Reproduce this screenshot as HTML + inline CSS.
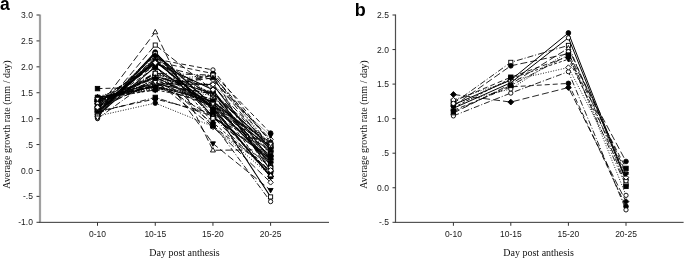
<!DOCTYPE html>
<html><head><meta charset="utf-8"><style>
html,body{margin:0;padding:0;background:#fff;width:685px;height:259px;overflow:hidden}
svg{display:block;will-change:transform}
</style></head><body>
<svg width="685" height="259" viewBox="0 0 685 259"><style>.tk{font:8.5px "Liberation Sans",sans-serif;fill:#1a1a1a}.tt{font:10px "Liberation Serif",serif;fill:#111}.pl{font:bold 18px "Liberation Sans",sans-serif;fill:#000}</style><defs><filter id="bl" x="0" y="0" width="1" height="1"><feGaussianBlur stdDeviation="0.3"/></filter></defs><rect width="685" height="259" fill="#fff"/><g filter="url(#bl)"><text x="0" y="10" class="pl" style="font-size:17.5px">a</text><text x="354.8" y="16.3" class="pl">b</text><rect x="38.9" y="14.5" width="2.2" height="207.8" fill="#a0a0a0"/><rect x="39.0" y="221.8" width="290.0" height="1.2" fill="#555"/><path d="M36.5 15.00H39.5" stroke="#333" stroke-width="1"/><text x="32.9" y="18.10" text-anchor="end" class="tk">3.0</text><path d="M36.5 40.91H39.5" stroke="#333" stroke-width="1"/><text x="32.9" y="44.01" text-anchor="end" class="tk">2.5</text><path d="M36.5 66.83H39.5" stroke="#333" stroke-width="1"/><text x="32.9" y="69.92" text-anchor="end" class="tk">2.0</text><path d="M36.5 92.74H39.5" stroke="#333" stroke-width="1"/><text x="32.9" y="95.84" text-anchor="end" class="tk">1.5</text><path d="M36.5 118.65H39.5" stroke="#333" stroke-width="1"/><text x="32.9" y="121.75" text-anchor="end" class="tk">1.0</text><path d="M36.5 144.56H39.5" stroke="#333" stroke-width="1"/><text x="32.9" y="147.66" text-anchor="end" class="tk">.5</text><path d="M36.5 170.48H39.5" stroke="#333" stroke-width="1"/><text x="32.9" y="173.58" text-anchor="end" class="tk">0.0</text><path d="M36.5 196.39H39.5" stroke="#333" stroke-width="1"/><text x="32.9" y="199.49" text-anchor="end" class="tk">-.5</text><path d="M36.5 222.30H39.5" stroke="#333" stroke-width="1"/><text x="32.9" y="225.40" text-anchor="end" class="tk">-1.0</text><path d="M97.50 222.3V225.8" stroke="#333" stroke-width="1"/><text x="97.50" y="237" text-anchor="middle" class="tk">0-10</text><path d="M155.25 222.3V225.8" stroke="#333" stroke-width="1"/><text x="155.25" y="237" text-anchor="middle" class="tk">10-15</text><path d="M212.95 222.3V225.8" stroke="#333" stroke-width="1"/><text x="212.95" y="237" text-anchor="middle" class="tk">15-20</text><path d="M270.60 222.3V225.8" stroke="#333" stroke-width="1"/><text x="270.60" y="237" text-anchor="middle" class="tk">20-25</text><text x="184.5" y="256.4" text-anchor="middle" class="tt">Day post anthesis</text><text transform="translate(10.3 124.5) rotate(-90)" x="0" y="0" text-anchor="middle" class="tt">Average growth rate (mm / day)</text><rect x="394.9" y="14.5" width="1.2" height="207.8" fill="#505050"/><rect x="395.0" y="221.8" width="288.6" height="1.2" fill="#555"/><path d="M392.5 15.00H395.5" stroke="#333" stroke-width="1"/><text x="388.9" y="18.10" text-anchor="end" class="tk">2.5</text><path d="M392.5 49.55H395.5" stroke="#333" stroke-width="1"/><text x="388.9" y="52.65" text-anchor="end" class="tk">2.0</text><path d="M392.5 84.10H395.5" stroke="#333" stroke-width="1"/><text x="388.9" y="87.20" text-anchor="end" class="tk">1.5</text><path d="M392.5 118.65H395.5" stroke="#333" stroke-width="1"/><text x="388.9" y="121.75" text-anchor="end" class="tk">1.0</text><path d="M392.5 153.20H395.5" stroke="#333" stroke-width="1"/><text x="388.9" y="156.30" text-anchor="end" class="tk">.5</text><path d="M392.5 187.75H395.5" stroke="#333" stroke-width="1"/><text x="388.9" y="190.85" text-anchor="end" class="tk">0.0</text><path d="M392.5 222.30H395.5" stroke="#333" stroke-width="1"/><text x="388.9" y="225.40" text-anchor="end" class="tk">-.5</text><path d="M453.40 222.3V225.8" stroke="#333" stroke-width="1"/><text x="453.40" y="237" text-anchor="middle" class="tk">0-10</text><path d="M510.80 222.3V225.8" stroke="#333" stroke-width="1"/><text x="510.80" y="237" text-anchor="middle" class="tk">10-15</text><path d="M568.40 222.3V225.8" stroke="#333" stroke-width="1"/><text x="568.40" y="237" text-anchor="middle" class="tk">15-20</text><path d="M626.00 222.3V225.8" stroke="#333" stroke-width="1"/><text x="626.00" y="237" text-anchor="middle" class="tk">20-25</text><text x="538.6" y="256.4" text-anchor="middle" class="tt">Day post anthesis</text><text transform="translate(366.8 124.5) rotate(-90)" x="0" y="0" text-anchor="middle" class="tt">Average growth rate (mm / day)</text><path d="M97.50 108.80L155.25 32.10L212.95 150.26L270.60 149.75" fill="none" stroke="#000" stroke-width="0.89" stroke-dasharray="7,3"/><path d="M97.50 88.59L155.25 87.04L212.95 105.69L270.60 152.34" fill="none" stroke="#000" stroke-width="0.89" stroke-dasharray="5,3"/><path d="M97.50 113.47L155.25 45.06L212.95 90.15L270.60 165.29" fill="none" stroke="#000" stroke-width="0.89" stroke-dasharray="7,3"/><path d="M97.50 116.06L155.25 103.10L212.95 126.42L270.60 175.66" fill="none" stroke="#000" stroke-width="0.89" stroke-dasharray="1,1.6"/><path d="M97.50 112.43L155.25 97.40L212.95 116.06L270.60 167.88" fill="none" stroke="#000" stroke-width="0.89" stroke-dasharray="6,2,1,2"/><path d="M97.50 108.29L155.25 64.23L212.95 143.53L270.60 190.17" fill="none" stroke="#000" stroke-width="0.89" stroke-dasharray="7,3"/><path d="M97.50 110.88L155.25 59.05L212.95 69.93L270.60 141.97" fill="none" stroke="#000" stroke-width="0.89" stroke-dasharray="5,3"/><path d="M97.50 103.10L155.25 61.64L212.95 73.56L270.60 133.16" fill="none" stroke="#000" stroke-width="0.89" stroke-dasharray="5,3"/><path d="M97.50 118.65L155.25 76.67L212.95 123.83L270.60 201.57" fill="none" stroke="#000" stroke-width="0.89" stroke-dasharray="6,2,1,2"/><path d="M97.50 115.02L155.25 66.83L212.95 108.29L270.60 196.91" fill="none" stroke="#000" stroke-width="1.05"/><path d="M97.50 109.32L155.25 80.82L212.95 126.94L270.60 182.39" fill="none" stroke="#000" stroke-width="0.89" stroke-dasharray="7,3"/><path d="M97.50 100.51L155.25 64.23L212.95 79.78L270.60 139.38" fill="none" stroke="#000" stroke-width="0.89" stroke-dasharray="7,3"/><path d="M97.50 101.55L155.25 62.68L212.95 95.33L270.60 160.11" fill="none" stroke="#000" stroke-width="0.89" stroke-dasharray="1,1.6"/><path d="M97.50 111.39L155.25 98.96L212.95 113.47L270.60 173.07" fill="none" stroke="#000" stroke-width="0.89" stroke-dasharray="5,3"/><path d="M97.50 117.00L155.25 53.01L212.95 105.71L270.60 162.16" fill="none" stroke="#000" stroke-width="1.05"/><path d="M97.50 103.87L155.25 77.41L212.95 85.98L270.60 146.14" fill="none" stroke="#000" stroke-width="0.89" stroke-dasharray="7,3"/><path d="M97.50 96.88L155.25 79.01L212.95 84.65L270.60 135.49" fill="none" stroke="#000" stroke-width="0.89" stroke-dasharray="1,1.6"/><path d="M97.50 105.48L155.25 73.74L212.95 102.70L270.60 156.15" fill="none" stroke="#000" stroke-width="0.89" stroke-dasharray="6,2,1,2"/><path d="M97.50 107.53L155.25 73.39L212.95 94.68L270.60 146.24" fill="none" stroke="#000" stroke-width="0.89" stroke-dasharray="5,3"/><path d="M97.50 113.92L155.25 58.97L212.95 116.89L270.60 156.69" fill="none" stroke="#000" stroke-width="0.89" stroke-dasharray="6,2,1,2,1,2"/><path d="M97.50 103.94L155.25 76.65L212.95 108.03L270.60 155.66" fill="none" stroke="#000" stroke-width="0.89" stroke-dasharray="3,2"/><path d="M97.50 98.04L155.25 83.71L212.95 84.50L270.60 159.76" fill="none" stroke="#000" stroke-width="1.05"/><path d="M97.50 96.88L155.25 90.14L212.95 75.12L270.60 176.69" fill="none" stroke="#000" stroke-width="0.89" stroke-dasharray="7,3"/><path d="M97.50 109.60L155.25 59.73L212.95 103.60L270.60 164.19" fill="none" stroke="#000" stroke-width="0.89" stroke-dasharray="6,2,1,2"/><path d="M97.50 114.33L155.25 52.10L212.95 116.78L270.60 158.88" fill="none" stroke="#000" stroke-width="1.05"/><path d="M97.50 97.36L155.25 87.29L212.95 104.62L270.60 160.27" fill="none" stroke="#000" stroke-width="0.89" stroke-dasharray="7,3"/><path d="M97.50 99.02L155.25 88.04L212.95 95.48L270.60 160.28" fill="none" stroke="#000" stroke-width="0.89" stroke-dasharray="1,1.6"/><path d="M97.50 102.22L155.25 77.24L212.95 105.66L270.60 142.14" fill="none" stroke="#000" stroke-width="0.89" stroke-dasharray="6,2,1,2"/><path d="M97.50 114.02L155.25 54.60L212.95 113.41L270.60 150.63" fill="none" stroke="#000" stroke-width="0.89" stroke-dasharray="5,3"/><path d="M97.50 99.77L155.25 84.86L212.95 93.33L270.60 149.06" fill="none" stroke="#000" stroke-width="0.89" stroke-dasharray="6,2,1,2,1,2"/><path d="M97.50 101.04L155.25 86.24L212.95 99.02L270.60 176.69" fill="none" stroke="#000" stroke-width="0.89" stroke-dasharray="3,2"/><path d="M97.50 101.64L155.25 76.22L212.95 93.19L270.60 147.35" fill="none" stroke="#000" stroke-width="1.05"/><path d="M97.50 97.51L155.25 86.14L212.95 75.12L270.60 141.88" fill="none" stroke="#000" stroke-width="0.89" stroke-dasharray="7,3"/><path d="M97.50 102.26L155.25 80.45L212.95 99.95L270.60 152.37" fill="none" stroke="#000" stroke-width="0.89" stroke-dasharray="6,2,1,2"/><path d="M97.50 99.56L155.25 86.32L212.95 101.31L270.60 148.58" fill="none" stroke="#000" stroke-width="1.05"/><path d="M97.50 115.02L155.25 57.65L212.95 97.57L270.60 150.91" fill="none" stroke="#000" stroke-width="0.89" stroke-dasharray="7,3"/><path d="M97.50 102.81L155.25 80.28L212.95 75.12L270.60 148.01" fill="none" stroke="#000" stroke-width="0.89" stroke-dasharray="1,1.6"/><path d="M97.50 104.67L155.25 72.70L212.95 92.45L270.60 143.57" fill="none" stroke="#000" stroke-width="0.89" stroke-dasharray="6,2,1,2"/><path d="M97.50 102.59L155.25 65.82L212.95 125.91L270.60 170.49" fill="none" stroke="#000" stroke-width="0.89" stroke-dasharray="5,3"/><path d="M97.50 108.17L155.25 73.28L212.95 75.12L270.60 145.90" fill="none" stroke="#000" stroke-width="0.89" stroke-dasharray="6,2,1,2,1,2"/><path d="M97.50 99.38L155.25 89.80L212.95 101.16L270.60 156.26" fill="none" stroke="#000" stroke-width="0.89" stroke-dasharray="3,2"/><path d="M97.50 112.36L155.25 61.63L212.95 106.99L270.60 176.69" fill="none" stroke="#000" stroke-width="1.05"/><path d="M97.50 100.93L155.25 77.40L212.95 102.49L270.60 164.70" fill="none" stroke="#000" stroke-width="0.89" stroke-dasharray="7,3"/><path d="M97.50 117.73L155.25 56.05L212.95 95.66L270.60 164.45" fill="none" stroke="#000" stroke-width="0.89" stroke-dasharray="6,2,1,2"/><path d="M97.50 111.30L155.25 60.79L212.95 108.61L270.60 176.69" fill="none" stroke="#000" stroke-width="1.05"/><path d="M97.50 106.38L155.25 83.91L212.95 94.02L270.60 167.59" fill="none" stroke="#000" stroke-width="0.89" stroke-dasharray="7,3"/><path d="M97.50 97.88L155.25 88.80L212.95 93.03L270.60 163.08" fill="none" stroke="#000" stroke-width="0.89" stroke-dasharray="1,1.6"/><path d="M97.50 102.63L155.25 82.16L212.95 116.93L270.60 175.17" fill="none" stroke="#000" stroke-width="0.89" stroke-dasharray="6,2,1,2"/><path d="M97.50 108.35L155.25 67.22L212.95 109.93L270.60 145.84" fill="none" stroke="#000" stroke-width="0.89" stroke-dasharray="5,3"/><path d="M97.50 108.72L155.25 53.75L212.95 118.50L270.60 145.16" fill="none" stroke="#000" stroke-width="0.89" stroke-dasharray="6,2,1,2,1,2"/><path d="M97.50 108.19L155.25 55.70L212.95 122.59L270.60 171.21" fill="none" stroke="#000" stroke-width="0.89" stroke-dasharray="3,2"/><path d="M97.50 107.32L155.25 62.76L212.95 89.76L270.60 170.30" fill="none" stroke="#000" stroke-width="1.05"/><path d="M97.50 97.89L155.25 85.70L212.95 77.92L270.60 150.47" fill="none" stroke="#000" stroke-width="0.89" stroke-dasharray="7,3"/><path d="M97.50 99.07L155.25 82.21L212.95 103.89L270.60 143.96" fill="none" stroke="#000" stroke-width="0.89" stroke-dasharray="6,2,1,2"/><path d="M97.50 106.10L100.00 110.50L95.00 110.50Z" fill="#fff" stroke="#000" stroke-width="0.9"/><path d="M155.25 29.40L157.75 33.80L152.75 33.80Z" fill="#fff" stroke="#000" stroke-width="0.9"/><path d="M212.95 147.56L215.45 151.96L210.45 151.96Z" fill="#fff" stroke="#000" stroke-width="0.9"/><path d="M270.60 147.05L273.10 151.44L268.10 151.44Z" fill="#fff" stroke="#000" stroke-width="0.9"/><rect x="95.30" y="86.39" width="4.40" height="4.40" fill="#000" stroke="#000" stroke-width="0.9"/><rect x="153.05" y="84.84" width="4.40" height="4.40" fill="#000" stroke="#000" stroke-width="0.9"/><rect x="210.75" y="103.49" width="4.40" height="4.40" fill="#000" stroke="#000" stroke-width="0.9"/><rect x="268.40" y="150.14" width="4.40" height="4.40" fill="#000" stroke="#000" stroke-width="0.9"/><rect x="95.45" y="111.42" width="4.10" height="4.10" fill="#fff" stroke="#000" stroke-width="0.9"/><rect x="153.20" y="43.01" width="4.10" height="4.10" fill="#fff" stroke="#000" stroke-width="0.9"/><rect x="210.90" y="88.10" width="4.10" height="4.10" fill="#fff" stroke="#000" stroke-width="0.9"/><rect x="268.55" y="163.24" width="4.10" height="4.10" fill="#fff" stroke="#000" stroke-width="0.9"/><circle cx="97.50" cy="116.06" r="2.35" fill="#000" stroke="#000" stroke-width="0.9"/><circle cx="155.25" cy="103.10" r="2.35" fill="#000" stroke="#000" stroke-width="0.9"/><circle cx="212.95" cy="126.42" r="2.35" fill="#000" stroke="#000" stroke-width="0.9"/><circle cx="270.60" cy="175.66" r="2.35" fill="#000" stroke="#000" stroke-width="0.9"/><rect x="95.30" y="110.23" width="4.40" height="4.40" fill="#000" stroke="#000" stroke-width="0.9"/><rect x="153.05" y="95.20" width="4.40" height="4.40" fill="#000" stroke="#000" stroke-width="0.9"/><rect x="210.75" y="113.86" width="4.40" height="4.40" fill="#000" stroke="#000" stroke-width="0.9"/><rect x="268.40" y="165.68" width="4.40" height="4.40" fill="#000" stroke="#000" stroke-width="0.9"/><path d="M97.50 110.99L100.00 106.59L95.00 106.59Z" fill="#000" stroke="#000" stroke-width="0.9"/><path d="M155.25 66.93L157.75 62.53L152.75 62.53Z" fill="#000" stroke="#000" stroke-width="0.9"/><path d="M212.95 146.23L215.45 141.83L210.45 141.83Z" fill="#000" stroke="#000" stroke-width="0.9"/><path d="M270.60 192.87L273.10 188.47L268.10 188.47Z" fill="#000" stroke="#000" stroke-width="0.9"/><circle cx="97.50" cy="110.88" r="2.15" fill="#fff" stroke="#000" stroke-width="0.9"/><circle cx="155.25" cy="59.05" r="2.15" fill="#fff" stroke="#000" stroke-width="0.9"/><circle cx="212.95" cy="69.93" r="2.15" fill="#fff" stroke="#000" stroke-width="0.9"/><circle cx="270.60" cy="141.97" r="2.15" fill="#fff" stroke="#000" stroke-width="0.9"/><circle cx="97.50" cy="103.10" r="2.35" fill="#000" stroke="#000" stroke-width="0.9"/><circle cx="155.25" cy="61.64" r="2.35" fill="#000" stroke="#000" stroke-width="0.9"/><circle cx="212.95" cy="73.56" r="2.35" fill="#000" stroke="#000" stroke-width="0.9"/><circle cx="270.60" cy="133.16" r="2.35" fill="#000" stroke="#000" stroke-width="0.9"/><circle cx="97.50" cy="118.65" r="2.15" fill="#fff" stroke="#000" stroke-width="0.9"/><circle cx="155.25" cy="76.67" r="2.15" fill="#fff" stroke="#000" stroke-width="0.9"/><circle cx="212.95" cy="123.83" r="2.15" fill="#fff" stroke="#000" stroke-width="0.9"/><circle cx="270.60" cy="201.57" r="2.15" fill="#fff" stroke="#000" stroke-width="0.9"/><rect x="95.45" y="112.97" width="4.10" height="4.10" fill="#fff" stroke="#000" stroke-width="0.9"/><rect x="153.20" y="64.78" width="4.10" height="4.10" fill="#fff" stroke="#000" stroke-width="0.9"/><rect x="210.90" y="106.24" width="4.10" height="4.10" fill="#fff" stroke="#000" stroke-width="0.9"/><rect x="268.55" y="194.86" width="4.10" height="4.10" fill="#fff" stroke="#000" stroke-width="0.9"/><path d="M97.50 106.62L100.20 109.32L97.50 112.02L94.80 109.32Z" fill="#fff" stroke="#000" stroke-width="0.9"/><path d="M155.25 78.12L157.95 80.82L155.25 83.52L152.55 80.82Z" fill="#fff" stroke="#000" stroke-width="0.9"/><path d="M212.95 124.24L215.65 126.94L212.95 129.64L210.25 126.94Z" fill="#fff" stroke="#000" stroke-width="0.9"/><path d="M270.60 179.69L273.30 182.39L270.60 185.09L267.90 182.39Z" fill="#fff" stroke="#000" stroke-width="0.9"/><path d="M97.50 97.81L100.20 100.51L97.50 103.21L94.80 100.51Z" fill="#fff" stroke="#000" stroke-width="0.9"/><path d="M155.25 61.53L157.95 64.23L155.25 66.93L152.55 64.23Z" fill="#fff" stroke="#000" stroke-width="0.9"/><path d="M212.95 77.08L215.65 79.78L212.95 82.48L210.25 79.78Z" fill="#fff" stroke="#000" stroke-width="0.9"/><path d="M270.60 136.68L273.30 139.38L270.60 142.08L267.90 139.38Z" fill="#fff" stroke="#000" stroke-width="0.9"/><path d="M97.50 98.85L100.20 101.55L97.50 104.25L94.80 101.55Z" fill="#fff" stroke="#000" stroke-width="0.9"/><path d="M155.25 59.98L157.95 62.68L155.25 65.38L152.55 62.68Z" fill="#fff" stroke="#000" stroke-width="0.9"/><path d="M212.95 92.63L215.65 95.33L212.95 98.03L210.25 95.33Z" fill="#fff" stroke="#000" stroke-width="0.9"/><path d="M270.60 157.41L273.30 160.11L270.60 162.81L267.90 160.11Z" fill="#fff" stroke="#000" stroke-width="0.9"/><circle cx="97.50" cy="111.39" r="2.35" fill="#000" stroke="#000" stroke-width="0.9"/><circle cx="155.25" cy="98.96" r="2.35" fill="#000" stroke="#000" stroke-width="0.9"/><circle cx="212.95" cy="113.47" r="2.35" fill="#000" stroke="#000" stroke-width="0.9"/><circle cx="270.60" cy="173.07" r="2.35" fill="#000" stroke="#000" stroke-width="0.9"/><circle cx="97.50" cy="117.00" r="2.35" fill="#000" stroke="#000" stroke-width="0.9"/><circle cx="155.25" cy="53.01" r="2.35" fill="#000" stroke="#000" stroke-width="0.9"/><circle cx="212.95" cy="105.71" r="2.35" fill="#000" stroke="#000" stroke-width="0.9"/><circle cx="270.60" cy="162.16" r="2.35" fill="#000" stroke="#000" stroke-width="0.9"/><circle cx="97.50" cy="103.87" r="2.15" fill="#fff" stroke="#000" stroke-width="0.9"/><circle cx="155.25" cy="77.41" r="2.15" fill="#fff" stroke="#000" stroke-width="0.9"/><circle cx="212.95" cy="85.98" r="2.15" fill="#fff" stroke="#000" stroke-width="0.9"/><circle cx="270.60" cy="146.14" r="2.15" fill="#fff" stroke="#000" stroke-width="0.9"/><path d="M97.50 99.58L100.00 95.18L95.00 95.18Z" fill="#000" stroke="#000" stroke-width="0.9"/><path d="M155.25 81.71L157.75 77.31L152.75 77.31Z" fill="#000" stroke="#000" stroke-width="0.9"/><path d="M212.95 87.35L215.45 82.95L210.45 82.95Z" fill="#000" stroke="#000" stroke-width="0.9"/><path d="M270.60 138.19L273.10 133.79L268.10 133.79Z" fill="#000" stroke="#000" stroke-width="0.9"/><path d="M97.50 102.78L100.00 107.18L95.00 107.18Z" fill="#fff" stroke="#000" stroke-width="0.9"/><path d="M155.25 71.04L157.75 75.44L152.75 75.44Z" fill="#fff" stroke="#000" stroke-width="0.9"/><path d="M212.95 100.00L215.45 104.40L210.45 104.40Z" fill="#fff" stroke="#000" stroke-width="0.9"/><path d="M270.60 153.45L273.10 157.85L268.10 157.85Z" fill="#fff" stroke="#000" stroke-width="0.9"/><rect x="95.30" y="105.33" width="4.40" height="4.40" fill="#000" stroke="#000" stroke-width="0.9"/><rect x="153.05" y="71.19" width="4.40" height="4.40" fill="#000" stroke="#000" stroke-width="0.9"/><rect x="210.75" y="92.48" width="4.40" height="4.40" fill="#000" stroke="#000" stroke-width="0.9"/><rect x="268.40" y="144.04" width="4.40" height="4.40" fill="#000" stroke="#000" stroke-width="0.9"/><rect x="95.45" y="111.87" width="4.10" height="4.10" fill="#fff" stroke="#000" stroke-width="0.9"/><rect x="153.20" y="56.92" width="4.10" height="4.10" fill="#fff" stroke="#000" stroke-width="0.9"/><rect x="210.90" y="114.84" width="4.10" height="4.10" fill="#fff" stroke="#000" stroke-width="0.9"/><rect x="268.55" y="154.64" width="4.10" height="4.10" fill="#fff" stroke="#000" stroke-width="0.9"/><path d="M97.50 101.04L100.40 103.94L97.50 106.84L94.60 103.94Z" fill="#000" stroke="#000" stroke-width="0.9"/><path d="M155.25 73.75L158.15 76.65L155.25 79.55L152.35 76.65Z" fill="#000" stroke="#000" stroke-width="0.9"/><path d="M212.95 105.13L215.85 108.03L212.95 110.93L210.05 108.03Z" fill="#000" stroke="#000" stroke-width="0.9"/><path d="M270.60 152.76L273.50 155.66L270.60 158.56L267.70 155.66Z" fill="#000" stroke="#000" stroke-width="0.9"/><path d="M97.50 95.34L100.20 98.04L97.50 100.74L94.80 98.04Z" fill="#fff" stroke="#000" stroke-width="0.9"/><path d="M155.25 81.01L157.95 83.71L155.25 86.41L152.55 83.71Z" fill="#fff" stroke="#000" stroke-width="0.9"/><path d="M212.95 81.80L215.65 84.50L212.95 87.20L210.25 84.50Z" fill="#fff" stroke="#000" stroke-width="0.9"/><path d="M270.60 157.06L273.30 159.76L270.60 162.46L267.90 159.76Z" fill="#fff" stroke="#000" stroke-width="0.9"/><path d="M97.50 94.18L100.00 98.58L95.00 98.58Z" fill="#000" stroke="#000" stroke-width="0.9"/><path d="M155.25 87.44L157.75 91.84L152.75 91.84Z" fill="#000" stroke="#000" stroke-width="0.9"/><path d="M212.95 72.42L215.45 76.82L210.45 76.82Z" fill="#000" stroke="#000" stroke-width="0.9"/><path d="M270.60 173.99L273.10 178.39L268.10 178.39Z" fill="#000" stroke="#000" stroke-width="0.9"/><path d="M97.50 112.30L100.00 107.90L95.00 107.90Z" fill="#fff" stroke="#000" stroke-width="0.9"/><path d="M155.25 62.43L157.75 58.03L152.75 58.03Z" fill="#fff" stroke="#000" stroke-width="0.9"/><path d="M212.95 106.30L215.45 101.90L210.45 101.90Z" fill="#fff" stroke="#000" stroke-width="0.9"/><path d="M270.60 166.89L273.10 162.49L268.10 162.49Z" fill="#fff" stroke="#000" stroke-width="0.9"/><circle cx="97.50" cy="114.33" r="2.35" fill="#000" stroke="#000" stroke-width="0.9"/><circle cx="155.25" cy="52.10" r="2.35" fill="#000" stroke="#000" stroke-width="0.9"/><circle cx="212.95" cy="116.78" r="2.35" fill="#000" stroke="#000" stroke-width="0.9"/><circle cx="270.60" cy="158.88" r="2.35" fill="#000" stroke="#000" stroke-width="0.9"/><circle cx="97.50" cy="97.36" r="2.15" fill="#fff" stroke="#000" stroke-width="0.9"/><circle cx="155.25" cy="87.29" r="2.15" fill="#fff" stroke="#000" stroke-width="0.9"/><circle cx="212.95" cy="104.62" r="2.15" fill="#fff" stroke="#000" stroke-width="0.9"/><circle cx="270.60" cy="160.27" r="2.15" fill="#fff" stroke="#000" stroke-width="0.9"/><path d="M97.50 101.72L100.00 97.32L95.00 97.32Z" fill="#000" stroke="#000" stroke-width="0.9"/><path d="M155.25 90.74L157.75 86.34L152.75 86.34Z" fill="#000" stroke="#000" stroke-width="0.9"/><path d="M212.95 98.18L215.45 93.78L210.45 93.78Z" fill="#000" stroke="#000" stroke-width="0.9"/><path d="M270.60 162.98L273.10 158.58L268.10 158.58Z" fill="#000" stroke="#000" stroke-width="0.9"/><path d="M97.50 99.52L100.00 103.92L95.00 103.92Z" fill="#fff" stroke="#000" stroke-width="0.9"/><path d="M155.25 74.54L157.75 78.94L152.75 78.94Z" fill="#fff" stroke="#000" stroke-width="0.9"/><path d="M212.95 102.96L215.45 107.36L210.45 107.36Z" fill="#fff" stroke="#000" stroke-width="0.9"/><path d="M270.60 139.44L273.10 143.84L268.10 143.84Z" fill="#fff" stroke="#000" stroke-width="0.9"/><rect x="95.30" y="111.82" width="4.40" height="4.40" fill="#000" stroke="#000" stroke-width="0.9"/><rect x="153.05" y="52.40" width="4.40" height="4.40" fill="#000" stroke="#000" stroke-width="0.9"/><rect x="210.75" y="111.21" width="4.40" height="4.40" fill="#000" stroke="#000" stroke-width="0.9"/><rect x="268.40" y="148.43" width="4.40" height="4.40" fill="#000" stroke="#000" stroke-width="0.9"/><rect x="95.45" y="97.72" width="4.10" height="4.10" fill="#fff" stroke="#000" stroke-width="0.9"/><rect x="153.20" y="82.81" width="4.10" height="4.10" fill="#fff" stroke="#000" stroke-width="0.9"/><rect x="210.90" y="91.28" width="4.10" height="4.10" fill="#fff" stroke="#000" stroke-width="0.9"/><rect x="268.55" y="147.01" width="4.10" height="4.10" fill="#fff" stroke="#000" stroke-width="0.9"/><path d="M97.50 98.14L100.40 101.04L97.50 103.94L94.60 101.04Z" fill="#000" stroke="#000" stroke-width="0.9"/><path d="M155.25 83.34L158.15 86.24L155.25 89.14L152.35 86.24Z" fill="#000" stroke="#000" stroke-width="0.9"/><path d="M212.95 96.12L215.85 99.02L212.95 101.92L210.05 99.02Z" fill="#000" stroke="#000" stroke-width="0.9"/><path d="M270.60 173.79L273.50 176.69L270.60 179.59L267.70 176.69Z" fill="#000" stroke="#000" stroke-width="0.9"/><path d="M97.50 98.94L100.20 101.64L97.50 104.34L94.80 101.64Z" fill="#fff" stroke="#000" stroke-width="0.9"/><path d="M155.25 73.52L157.95 76.22L155.25 78.92L152.55 76.22Z" fill="#fff" stroke="#000" stroke-width="0.9"/><path d="M212.95 90.49L215.65 93.19L212.95 95.89L210.25 93.19Z" fill="#fff" stroke="#000" stroke-width="0.9"/><path d="M270.60 144.65L273.30 147.35L270.60 150.05L267.90 147.35Z" fill="#fff" stroke="#000" stroke-width="0.9"/><path d="M97.50 94.81L100.00 99.21L95.00 99.21Z" fill="#000" stroke="#000" stroke-width="0.9"/><path d="M155.25 83.44L157.75 87.84L152.75 87.84Z" fill="#000" stroke="#000" stroke-width="0.9"/><path d="M212.95 72.42L215.45 76.82L210.45 76.82Z" fill="#000" stroke="#000" stroke-width="0.9"/><path d="M270.60 139.18L273.10 143.58L268.10 143.58Z" fill="#000" stroke="#000" stroke-width="0.9"/><path d="M97.50 104.96L100.00 100.56L95.00 100.56Z" fill="#fff" stroke="#000" stroke-width="0.9"/><path d="M155.25 83.15L157.75 78.75L152.75 78.75Z" fill="#fff" stroke="#000" stroke-width="0.9"/><path d="M212.95 102.65L215.45 98.25L210.45 98.25Z" fill="#fff" stroke="#000" stroke-width="0.9"/><path d="M270.60 155.07L273.10 150.67L268.10 150.67Z" fill="#fff" stroke="#000" stroke-width="0.9"/><circle cx="97.50" cy="99.56" r="2.35" fill="#000" stroke="#000" stroke-width="0.9"/><circle cx="155.25" cy="86.32" r="2.35" fill="#000" stroke="#000" stroke-width="0.9"/><circle cx="212.95" cy="101.31" r="2.35" fill="#000" stroke="#000" stroke-width="0.9"/><circle cx="270.60" cy="148.58" r="2.35" fill="#000" stroke="#000" stroke-width="0.9"/><circle cx="97.50" cy="115.02" r="2.15" fill="#fff" stroke="#000" stroke-width="0.9"/><circle cx="155.25" cy="57.65" r="2.15" fill="#fff" stroke="#000" stroke-width="0.9"/><circle cx="212.95" cy="97.57" r="2.15" fill="#fff" stroke="#000" stroke-width="0.9"/><circle cx="270.60" cy="150.91" r="2.15" fill="#fff" stroke="#000" stroke-width="0.9"/><path d="M97.50 105.51L100.00 101.11L95.00 101.11Z" fill="#000" stroke="#000" stroke-width="0.9"/><path d="M155.25 82.98L157.75 78.58L152.75 78.58Z" fill="#000" stroke="#000" stroke-width="0.9"/><path d="M212.95 77.82L215.45 73.42L210.45 73.42Z" fill="#000" stroke="#000" stroke-width="0.9"/><path d="M270.60 150.71L273.10 146.31L268.10 146.31Z" fill="#000" stroke="#000" stroke-width="0.9"/><path d="M97.50 101.97L100.00 106.37L95.00 106.37Z" fill="#fff" stroke="#000" stroke-width="0.9"/><path d="M155.25 70.00L157.75 74.40L152.75 74.40Z" fill="#fff" stroke="#000" stroke-width="0.9"/><path d="M212.95 89.75L215.45 94.15L210.45 94.15Z" fill="#fff" stroke="#000" stroke-width="0.9"/><path d="M270.60 140.87L273.10 145.27L268.10 145.27Z" fill="#fff" stroke="#000" stroke-width="0.9"/><rect x="95.30" y="100.39" width="4.40" height="4.40" fill="#000" stroke="#000" stroke-width="0.9"/><rect x="153.05" y="63.62" width="4.40" height="4.40" fill="#000" stroke="#000" stroke-width="0.9"/><rect x="210.75" y="123.71" width="4.40" height="4.40" fill="#000" stroke="#000" stroke-width="0.9"/><rect x="268.40" y="168.29" width="4.40" height="4.40" fill="#000" stroke="#000" stroke-width="0.9"/><rect x="95.45" y="106.12" width="4.10" height="4.10" fill="#fff" stroke="#000" stroke-width="0.9"/><rect x="153.20" y="71.23" width="4.10" height="4.10" fill="#fff" stroke="#000" stroke-width="0.9"/><rect x="210.90" y="73.07" width="4.10" height="4.10" fill="#fff" stroke="#000" stroke-width="0.9"/><rect x="268.55" y="143.85" width="4.10" height="4.10" fill="#fff" stroke="#000" stroke-width="0.9"/><path d="M97.50 96.48L100.40 99.38L97.50 102.28L94.60 99.38Z" fill="#000" stroke="#000" stroke-width="0.9"/><path d="M155.25 86.90L158.15 89.80L155.25 92.70L152.35 89.80Z" fill="#000" stroke="#000" stroke-width="0.9"/><path d="M212.95 98.26L215.85 101.16L212.95 104.06L210.05 101.16Z" fill="#000" stroke="#000" stroke-width="0.9"/><path d="M270.60 153.36L273.50 156.26L270.60 159.16L267.70 156.26Z" fill="#000" stroke="#000" stroke-width="0.9"/><path d="M97.50 109.66L100.20 112.36L97.50 115.06L94.80 112.36Z" fill="#fff" stroke="#000" stroke-width="0.9"/><path d="M155.25 58.93L157.95 61.63L155.25 64.33L152.55 61.63Z" fill="#fff" stroke="#000" stroke-width="0.9"/><path d="M212.95 104.29L215.65 106.99L212.95 109.69L210.25 106.99Z" fill="#fff" stroke="#000" stroke-width="0.9"/><path d="M270.60 173.99L273.30 176.69L270.60 179.39L267.90 176.69Z" fill="#fff" stroke="#000" stroke-width="0.9"/><path d="M97.50 98.23L100.00 102.63L95.00 102.63Z" fill="#000" stroke="#000" stroke-width="0.9"/><path d="M155.25 74.70L157.75 79.10L152.75 79.10Z" fill="#000" stroke="#000" stroke-width="0.9"/><path d="M212.95 99.79L215.45 104.19L210.45 104.19Z" fill="#000" stroke="#000" stroke-width="0.9"/><path d="M270.60 162.00L273.10 166.40L268.10 166.40Z" fill="#000" stroke="#000" stroke-width="0.9"/><path d="M97.50 120.43L100.00 116.03L95.00 116.03Z" fill="#fff" stroke="#000" stroke-width="0.9"/><path d="M155.25 58.75L157.75 54.35L152.75 54.35Z" fill="#fff" stroke="#000" stroke-width="0.9"/><path d="M212.95 98.36L215.45 93.96L210.45 93.96Z" fill="#fff" stroke="#000" stroke-width="0.9"/><path d="M270.60 167.15L273.10 162.75L268.10 162.75Z" fill="#fff" stroke="#000" stroke-width="0.9"/><circle cx="97.50" cy="111.30" r="2.35" fill="#000" stroke="#000" stroke-width="0.9"/><circle cx="155.25" cy="60.79" r="2.35" fill="#000" stroke="#000" stroke-width="0.9"/><circle cx="212.95" cy="108.61" r="2.35" fill="#000" stroke="#000" stroke-width="0.9"/><circle cx="270.60" cy="176.69" r="2.35" fill="#000" stroke="#000" stroke-width="0.9"/><circle cx="97.50" cy="106.38" r="2.15" fill="#fff" stroke="#000" stroke-width="0.9"/><circle cx="155.25" cy="83.91" r="2.15" fill="#fff" stroke="#000" stroke-width="0.9"/><circle cx="212.95" cy="94.02" r="2.15" fill="#fff" stroke="#000" stroke-width="0.9"/><circle cx="270.60" cy="167.59" r="2.15" fill="#fff" stroke="#000" stroke-width="0.9"/><path d="M97.50 100.58L100.00 96.18L95.00 96.18Z" fill="#000" stroke="#000" stroke-width="0.9"/><path d="M155.25 91.50L157.75 87.10L152.75 87.10Z" fill="#000" stroke="#000" stroke-width="0.9"/><path d="M212.95 95.73L215.45 91.33L210.45 91.33Z" fill="#000" stroke="#000" stroke-width="0.9"/><path d="M270.60 165.78L273.10 161.38L268.10 161.38Z" fill="#000" stroke="#000" stroke-width="0.9"/><path d="M97.50 99.93L100.00 104.33L95.00 104.33Z" fill="#fff" stroke="#000" stroke-width="0.9"/><path d="M155.25 79.46L157.75 83.86L152.75 83.86Z" fill="#fff" stroke="#000" stroke-width="0.9"/><path d="M212.95 114.23L215.45 118.63L210.45 118.63Z" fill="#fff" stroke="#000" stroke-width="0.9"/><path d="M270.60 172.47L273.10 176.87L268.10 176.87Z" fill="#fff" stroke="#000" stroke-width="0.9"/><rect x="95.30" y="106.15" width="4.40" height="4.40" fill="#000" stroke="#000" stroke-width="0.9"/><rect x="153.05" y="65.02" width="4.40" height="4.40" fill="#000" stroke="#000" stroke-width="0.9"/><rect x="210.75" y="107.73" width="4.40" height="4.40" fill="#000" stroke="#000" stroke-width="0.9"/><rect x="268.40" y="143.64" width="4.40" height="4.40" fill="#000" stroke="#000" stroke-width="0.9"/><rect x="95.45" y="106.67" width="4.10" height="4.10" fill="#fff" stroke="#000" stroke-width="0.9"/><rect x="153.20" y="51.70" width="4.10" height="4.10" fill="#fff" stroke="#000" stroke-width="0.9"/><rect x="210.90" y="116.45" width="4.10" height="4.10" fill="#fff" stroke="#000" stroke-width="0.9"/><rect x="268.55" y="143.11" width="4.10" height="4.10" fill="#fff" stroke="#000" stroke-width="0.9"/><path d="M97.50 105.29L100.40 108.19L97.50 111.09L94.60 108.19Z" fill="#000" stroke="#000" stroke-width="0.9"/><path d="M155.25 52.80L158.15 55.70L155.25 58.60L152.35 55.70Z" fill="#000" stroke="#000" stroke-width="0.9"/><path d="M212.95 119.69L215.85 122.59L212.95 125.49L210.05 122.59Z" fill="#000" stroke="#000" stroke-width="0.9"/><path d="M270.60 168.31L273.50 171.21L270.60 174.11L267.70 171.21Z" fill="#000" stroke="#000" stroke-width="0.9"/><path d="M97.50 104.62L100.20 107.32L97.50 110.02L94.80 107.32Z" fill="#fff" stroke="#000" stroke-width="0.9"/><path d="M155.25 60.06L157.95 62.76L155.25 65.46L152.55 62.76Z" fill="#fff" stroke="#000" stroke-width="0.9"/><path d="M212.95 87.06L215.65 89.76L212.95 92.46L210.25 89.76Z" fill="#fff" stroke="#000" stroke-width="0.9"/><path d="M270.60 167.60L273.30 170.30L270.60 173.00L267.90 170.30Z" fill="#fff" stroke="#000" stroke-width="0.9"/><path d="M97.50 95.19L100.00 99.59L95.00 99.59Z" fill="#000" stroke="#000" stroke-width="0.9"/><path d="M155.25 83.00L157.75 87.40L152.75 87.40Z" fill="#000" stroke="#000" stroke-width="0.9"/><path d="M212.95 75.22L215.45 79.62L210.45 79.62Z" fill="#000" stroke="#000" stroke-width="0.9"/><path d="M270.60 147.77L273.10 152.17L268.10 152.17Z" fill="#000" stroke="#000" stroke-width="0.9"/><path d="M97.50 101.77L100.00 97.37L95.00 97.37Z" fill="#fff" stroke="#000" stroke-width="0.9"/><path d="M155.25 84.91L157.75 80.51L152.75 80.51Z" fill="#fff" stroke="#000" stroke-width="0.9"/><path d="M212.95 106.59L215.45 102.19L210.45 102.19Z" fill="#fff" stroke="#000" stroke-width="0.9"/><path d="M270.60 146.66L273.10 142.26L268.10 142.26Z" fill="#fff" stroke="#000" stroke-width="0.9"/><path d="M453.40 94.46L510.80 102.07L568.40 87.56L626.00 201.57" fill="none" stroke="#000" stroke-width="0.85" stroke-dasharray="7,3"/><path d="M453.40 110.36L510.80 86.86L568.40 83.41L626.00 206.41" fill="none" stroke="#000" stroke-width="0.85" stroke-dasharray="5,3"/><path d="M453.40 115.89L510.80 93.08L568.40 71.66L626.00 209.86" fill="none" stroke="#000" stroke-width="0.85" stroke-dasharray="6,2,1,2"/><path d="M453.40 103.45L510.80 62.33L568.40 45.40L626.00 184.30" fill="none" stroke="#000" stroke-width="0.85" stroke-dasharray="6,2,1,2"/><path d="M453.40 106.21L510.80 65.79L568.40 53.70L626.00 161.49" fill="none" stroke="#000" stroke-width="0.85" stroke-dasharray="7,3"/><path d="M453.40 101.38L510.80 77.19L568.40 56.46L626.00 168.40" fill="none" stroke="#000" stroke-width="0.85" stroke-dasharray="5,3"/><path d="M453.40 104.83L510.80 79.95L568.40 32.97L626.00 179.46" fill="none" stroke="#000" stroke-width="1.00"/><path d="M453.40 108.29L510.80 82.72L568.40 37.80L626.00 180.84" fill="none" stroke="#000" stroke-width="1.00"/><path d="M453.40 99.99L510.80 80.64L568.40 67.52L626.00 177.39" fill="none" stroke="#000" stroke-width="0.85" stroke-dasharray="1,1.6"/><path d="M453.40 113.12L510.80 84.10L568.40 48.17L626.00 172.55" fill="none" stroke="#000" stroke-width="0.85" stroke-dasharray="7,3"/><path d="M453.40 107.59L510.80 78.57L568.40 59.22L626.00 173.93" fill="none" stroke="#000" stroke-width="0.85" stroke-dasharray="3,2"/><path d="M453.40 103.45L510.80 88.94L568.40 51.62L626.00 195.35" fill="none" stroke="#000" stroke-width="0.85" stroke-dasharray="1,1.6"/><path d="M453.40 111.74L510.80 85.48L568.40 55.08L626.00 186.37" fill="none" stroke="#000" stroke-width="0.85" stroke-dasharray="6,2,1,2,1,2"/><path d="M453.40 91.56L456.30 94.46L453.40 97.36L450.50 94.46Z" fill="#000" stroke="#000" stroke-width="0.9"/><path d="M510.80 99.17L513.70 102.07L510.80 104.97L507.90 102.07Z" fill="#000" stroke="#000" stroke-width="0.9"/><path d="M568.40 84.66L571.30 87.56L568.40 90.46L565.50 87.56Z" fill="#000" stroke="#000" stroke-width="0.9"/><path d="M626.00 198.67L628.90 201.57L626.00 204.47L623.10 201.57Z" fill="#000" stroke="#000" stroke-width="0.9"/><circle cx="453.40" cy="110.36" r="2.35" fill="#000" stroke="#000" stroke-width="0.9"/><circle cx="510.80" cy="86.86" r="2.35" fill="#000" stroke="#000" stroke-width="0.9"/><circle cx="568.40" cy="83.41" r="2.35" fill="#000" stroke="#000" stroke-width="0.9"/><circle cx="626.00" cy="206.41" r="2.35" fill="#000" stroke="#000" stroke-width="0.9"/><circle cx="453.40" cy="115.89" r="2.15" fill="#fff" stroke="#000" stroke-width="0.9"/><circle cx="510.80" cy="93.08" r="2.15" fill="#fff" stroke="#000" stroke-width="0.9"/><circle cx="568.40" cy="71.66" r="2.15" fill="#fff" stroke="#000" stroke-width="0.9"/><circle cx="626.00" cy="209.86" r="2.15" fill="#fff" stroke="#000" stroke-width="0.9"/><rect x="451.35" y="101.40" width="4.10" height="4.10" fill="#fff" stroke="#000" stroke-width="0.9"/><rect x="508.75" y="60.28" width="4.10" height="4.10" fill="#fff" stroke="#000" stroke-width="0.9"/><rect x="566.35" y="43.35" width="4.10" height="4.10" fill="#fff" stroke="#000" stroke-width="0.9"/><rect x="623.95" y="182.25" width="4.10" height="4.10" fill="#fff" stroke="#000" stroke-width="0.9"/><circle cx="453.40" cy="106.21" r="2.35" fill="#000" stroke="#000" stroke-width="0.9"/><circle cx="510.80" cy="65.79" r="2.35" fill="#000" stroke="#000" stroke-width="0.9"/><circle cx="568.40" cy="53.70" r="2.35" fill="#000" stroke="#000" stroke-width="0.9"/><circle cx="626.00" cy="161.49" r="2.35" fill="#000" stroke="#000" stroke-width="0.9"/><rect x="451.20" y="99.17" width="4.40" height="4.40" fill="#000" stroke="#000" stroke-width="0.9"/><rect x="508.60" y="74.99" width="4.40" height="4.40" fill="#000" stroke="#000" stroke-width="0.9"/><rect x="566.20" y="54.26" width="4.40" height="4.40" fill="#000" stroke="#000" stroke-width="0.9"/><rect x="623.80" y="166.20" width="4.40" height="4.40" fill="#000" stroke="#000" stroke-width="0.9"/><circle cx="453.40" cy="104.83" r="2.35" fill="#000" stroke="#000" stroke-width="0.9"/><circle cx="510.80" cy="79.95" r="2.35" fill="#000" stroke="#000" stroke-width="0.9"/><circle cx="568.40" cy="32.97" r="2.35" fill="#000" stroke="#000" stroke-width="0.9"/><circle cx="626.00" cy="179.46" r="2.35" fill="#000" stroke="#000" stroke-width="0.9"/><circle cx="453.40" cy="108.29" r="2.15" fill="#fff" stroke="#000" stroke-width="0.9"/><circle cx="510.80" cy="82.72" r="2.15" fill="#fff" stroke="#000" stroke-width="0.9"/><circle cx="568.40" cy="37.80" r="2.15" fill="#fff" stroke="#000" stroke-width="0.9"/><circle cx="626.00" cy="180.84" r="2.15" fill="#fff" stroke="#000" stroke-width="0.9"/><path d="M453.40 97.29L456.10 99.99L453.40 102.69L450.70 99.99Z" fill="#fff" stroke="#000" stroke-width="0.9"/><path d="M510.80 77.94L513.50 80.64L510.80 83.34L508.10 80.64Z" fill="#fff" stroke="#000" stroke-width="0.9"/><path d="M568.40 64.82L571.10 67.52L568.40 70.22L565.70 67.52Z" fill="#fff" stroke="#000" stroke-width="0.9"/><path d="M626.00 174.69L628.70 177.39L626.00 180.09L623.30 177.39Z" fill="#fff" stroke="#000" stroke-width="0.9"/><path d="M453.40 110.42L455.90 114.82L450.90 114.82Z" fill="#fff" stroke="#000" stroke-width="0.9"/><path d="M510.80 81.40L513.30 85.80L508.30 85.80Z" fill="#fff" stroke="#000" stroke-width="0.9"/><path d="M568.40 45.47L570.90 49.87L565.90 49.87Z" fill="#fff" stroke="#000" stroke-width="0.9"/><path d="M626.00 169.85L628.50 174.25L623.50 174.25Z" fill="#fff" stroke="#000" stroke-width="0.9"/><path d="M453.40 110.29L455.90 105.89L450.90 105.89Z" fill="#000" stroke="#000" stroke-width="0.9"/><path d="M510.80 81.27L513.30 76.87L508.30 76.87Z" fill="#000" stroke="#000" stroke-width="0.9"/><path d="M568.40 61.92L570.90 57.52L565.90 57.52Z" fill="#000" stroke="#000" stroke-width="0.9"/><path d="M626.00 176.63L628.50 172.23L623.50 172.23Z" fill="#000" stroke="#000" stroke-width="0.9"/><circle cx="453.40" cy="103.45" r="2.15" fill="#fff" stroke="#000" stroke-width="0.9"/><circle cx="510.80" cy="88.94" r="2.15" fill="#fff" stroke="#000" stroke-width="0.9"/><circle cx="568.40" cy="51.62" r="2.15" fill="#fff" stroke="#000" stroke-width="0.9"/><circle cx="626.00" cy="195.35" r="2.15" fill="#fff" stroke="#000" stroke-width="0.9"/><rect x="451.20" y="109.54" width="4.40" height="4.40" fill="#000" stroke="#000" stroke-width="0.9"/><rect x="508.60" y="83.28" width="4.40" height="4.40" fill="#000" stroke="#000" stroke-width="0.9"/><rect x="566.20" y="52.88" width="4.40" height="4.40" fill="#000" stroke="#000" stroke-width="0.9"/><rect x="623.80" y="184.17" width="4.40" height="4.40" fill="#000" stroke="#000" stroke-width="0.9"/></g></svg>
</body></html>
